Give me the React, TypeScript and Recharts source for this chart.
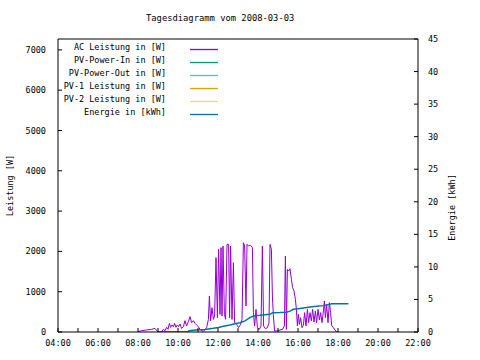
import { LineChart, Line, XAxis, YAxis, Legend } from "recharts";

const FONT = "'DejaVu Sans Mono', monospace";

const hourTicks = [4, 5, 6, 7, 8, 9, 10, 11, 12, 13, 14, 15, 16, 17, 18, 19, 20, 21, 22];
const wattTicks = [0, 1000, 2000, 3000, 4000, 5000, 6000, 7000];
const kwhTicks = [0, 5, 10, 15, 20, 25, 30, 35, 40, 45];

// AC power, time in decimal hours
const acTimes = [
  7.97, 8.18, 8.43, 8.68, 8.85, 8.97, 9.07, 9.18, 9.27, 9.35, 9.43, 9.5, 9.57, 9.63, 9.7, 9.77, 9.83, 9.9,
  9.97, 10.03, 10.1, 10.18, 10.27, 10.35, 10.43, 10.52, 10.6, 10.68, 10.77, 10.85, 10.93, 11.02, 11.1,
  11.18, 11.27, 11.35, 11.43, 11.52, 11.57, 11.63, 11.7, 11.77, 11.83, 11.9, 11.97, 12.03, 12.1, 12.15,
  12.2, 12.25, 12.32, 12.38, 12.45, 12.53, 12.58, 12.63, 12.7, 12.77, 12.83, 12.93, 13.03, 13.13, 13.2,
  13.27, 13.33, 13.4, 13.45, 13.53, 13.63, 13.72, 13.77, 13.83, 13.9, 13.97, 14.07, 14.15, 14.22, 14.28,
  14.37, 14.47, 14.55, 14.6, 14.67, 14.72, 14.77, 14.83, 14.97, 15.1, 15.23, 15.32, 15.37, 15.42, 15.47,
  15.53, 15.6, 15.67, 15.73, 15.8, 15.87, 15.92, 15.97, 16.02, 16.07, 16.13, 16.2, 16.27, 16.33, 16.4,
  16.47, 16.53, 16.6, 16.67, 16.73, 16.8, 16.87, 16.93, 17.0, 17.07, 17.13, 17.2, 17.27, 17.32, 17.37,
  17.43, 17.5, 17.57, 17.63, 17.68, 17.77, 17.85, 17.93, 18.03,
];
const acWatts = [
  0, 33, 50, 66, 90, 17, 0, 8, 66, 33, 116, 66, 215, 116, 175, 132, 215, 116,
  175, 132, 198, 90, 132, 281, 150, 256, 380, 232, 281, 215, 175, 132, 66,
  33, 17, 60, 107, 314, 893, 273, 604, 314, 397, 1844, 356, 2051, 438, 2092,
  397, 2134, 438, 314, 2175, 2175, 356, 2134, 314, 1720, 232, 190, 107, 190, 314,
  2216, 2134, 645, 2175, 2134, 2150, 2092, 480, 149, 562, 107, 66, 149, 2134, 149,
  83, 107, 232, 2175, 2051, 893, 397, 25, 25, 50, 66, 149, 1886, 66, 1555,
  1513, 1571, 1307, 1100, 1017, 810, 562, 149, 438, 190, 356, 107, 165, 480, 149,
  562, 232, 480, 273, 562, 248, 521, 232, 562, 298, 480, 232, 521, 769, 356,
  686, 232, 728, 480, 165, 107, 50, 0, 0,
];

// cumulative energy
const energyTimes = [
  9.05, 10.5, 10.55, 11.0, 11.35, 11.77, 12.02, 12.27, 12.6, 12.85, 13.1, 13.35, 13.52, 13.68, 13.85,
  14.1, 14.35, 14.6, 14.73, 15.1, 15.43, 15.6, 15.77, 16.02, 16.27, 16.6, 16.93, 17.27, 17.6, 17.68, 18.52,
];
const energyKwh = [
  0, 0, 0.2, 0.35, 0.4, 0.56, 0.7, 0.87, 1.07, 1.28, 1.43, 1.7, 2.05, 2.35, 2.5,
  2.56, 2.66, 2.71, 2.97, 3.0, 3.05, 3.2, 3.48, 3.58, 3.69, 3.84, 3.94, 4.05, 4.25, 4.35, 4.35,
];

const series = [
  { name: "AC Leistung in [W]", color: "#9400d3" },
  { name: "PV-Power-In in [W]", color: "#009e73" },
  { name: "PV-Power-Out in [W]", color: "#56b4e9" },
  { name: "PV-1 Leistung in [W]", color: "#e69f00" },
  { name: "PV-2 Leistung in [W]", color: "#f0e442" },
  { name: "Energie in [kWh]", color: "#0072b2" },
];

const acData = acTimes.map((t, i) => ({ t, w: acWatts[i] }));
const energyData = energyTimes.map((t, i) => ({ t, e: energyKwh[i] }));

const fmtHour = (h: number) => (h % 2 === 0 ? `${String(h).padStart(2, "0")}:00` : "");

const tickStyle = { fontFamily: FONT, fontSize: 8.5, fill: "#000" };

const renderLegend = () => (
  <svg width={230} height={84}>
    {series.map((s, i) => (
      <g key={s.name}>
        <text x={166} y={10 + i * 13} textAnchor="end" style={tickStyle}>
          {s.name}
        </text>
        <line x1={190} x2={218} y1={9.5 + i * 13} y2={9.5 + i * 13} stroke={s.color} strokeWidth={1.3} />
      </g>
    ))}
  </svg>
);

export default function App() {
  return (
    <div style={{ position: "absolute", left: 0, top: 0, width: 480, height: 360, background: "#fff" }}>
      <div
        style={{
          position: "absolute",
          left: 146,
          top: 12,
          fontFamily: FONT,
          fontSize: 8.8,
          whiteSpace: "pre",
          color: "#000",
          lineHeight: "12px",
        }}
      >
        Tagesdiagramm vom 2008-03-03
      </div>
      <LineChart width={480} height={360} margin={{ top: 38, right: 0, bottom: 0, left: 0 }}>
        <XAxis
          xAxisId="bottom"
          dataKey="t"
          type="number"
          domain={[4, 22]}
          allowDataOverflow
          ticks={hourTicks}
          interval={0}
          tickFormatter={fmtHour}
          height={28}
          tickSize={-4}
          tickMargin={12}
          tick={tickStyle}
          axisLine={{ stroke: "#000" }}
          tickLine={{ stroke: "#000" }}
        />
        <XAxis
          xAxisId="top"
          orientation="top"
          dataKey="t"
          type="number"
          domain={[4, 22]}
          allowDataOverflow
          ticks={hourTicks}
          interval={0}
          height={1}
          tickSize={-4}
          tick={false}
          axisLine={{ stroke: "#000" }}
          tickLine={{ stroke: "#000" }}
        />
        <YAxis
          yAxisId="w"
          domain={[0, 7270]}
          allowDataOverflow
          ticks={wattTicks}
          interval={0}
          width={58}
          tickSize={-4}
          tickMargin={16}
          tick={tickStyle}
          axisLine={{ stroke: "#000" }}
          tickLine={{ stroke: "#000" }}
          label={{ value: "Leistung [W]", angle: -90, position: "center", dx: -19, style: tickStyle }}
        />
        <YAxis
          yAxisId="wMirror"
          orientation="right"
          domain={[0, 7270]}
          allowDataOverflow
          ticks={wattTicks}
          interval={0}
          width={1}
          tickSize={-4}
          tick={false}
          axisLine={false}
          tickLine={{ stroke: "#000" }}
        />
        <YAxis
          yAxisId="kwh"
          orientation="right"
          domain={[0, 45]}
          allowDataOverflow
          ticks={kwhTicks}
          interval={0}
          width={61}
          tickSize={-4}
          tickMargin={14}
          tick={tickStyle}
          axisLine={{ stroke: "#000" }}
          tickLine={{ stroke: "#000" }}
          label={{ value: "Energie [kWh]", angle: -90, position: "center", dx: 3, dy: 22, style: tickStyle }}
        />
        <Legend
          layout="vertical"
          align="center"
          verticalAlign="middle"
          content={renderLegend}
          wrapperStyle={{ position: "absolute", left: 0, top: 40, width: 230, height: 84 }}
        />
        <Line
          xAxisId="bottom"
          yAxisId="w"
          data={acData}
          dataKey="w"
          name={series[0].name}
          stroke={series[0].color}
          strokeWidth={1}
          dot={false}
          type="linear"
          isAnimationActive={false}
        />
        <Line
          xAxisId="bottom"
          yAxisId="kwh"
          data={energyData}
          dataKey="e"
          name={series[5].name}
          stroke={series[5].color}
          strokeWidth={1.5}
          dot={false}
          type="linear"
          isAnimationActive={false}
        />
      </LineChart>
    </div>
  );
}
